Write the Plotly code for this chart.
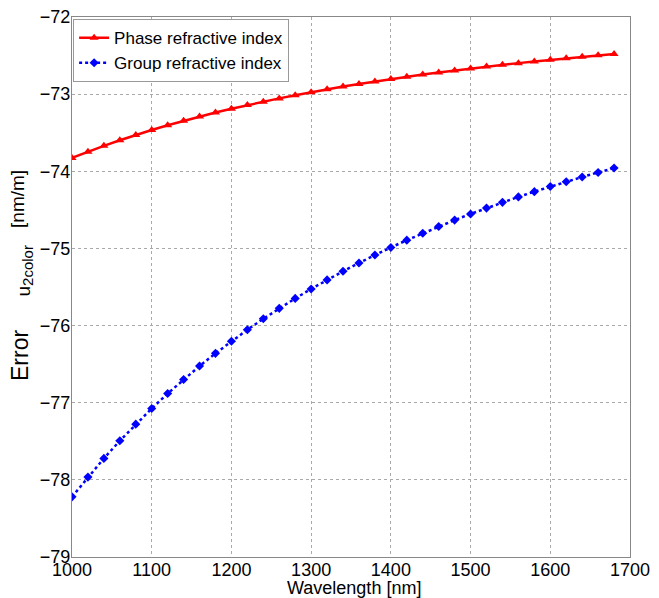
import plotly.graph_objects as go

wavelength = [1000, 1020, 1040, 1060, 1080, 1100, 1120, 1140, 1160, 1180,
              1200, 1220, 1240, 1260, 1280, 1300, 1320, 1340, 1360, 1380,
              1400, 1420, 1440, 1460, 1480, 1500, 1520, 1540, 1560, 1580,
              1600, 1620, 1640, 1660, 1680]

phase_error = [-73.827, -73.746, -73.670, -73.597, -73.529, -73.465, -73.404, -73.346, -73.291, -73.239,
               -73.189, -73.142, -73.097, -73.055, -73.014, -72.975, -72.938, -72.902, -72.868, -72.836,
               -72.805, -72.775, -72.746, -72.719, -72.693, -72.668, -72.643, -72.620, -72.598, -72.576,
               -72.555, -72.535, -72.516, -72.497, -72.479]

group_error = [-78.220, -77.964, -77.722, -77.494, -77.278, -77.075, -76.881, -76.699, -76.525, -76.360,
               -76.203, -76.054, -75.912, -75.777, -75.648, -75.525, -75.408, -75.296, -75.188, -75.086,
               -74.987, -74.893, -74.803, -74.716, -74.633, -74.553, -74.477, -74.403, -74.332, -74.264,
               -74.198, -74.135, -74.074, -74.015, -73.958]

x_ticks = [1000, 1100, 1200, 1300, 1400, 1500, 1600, 1700]
y_ticks = [-79, -78, -77, -76, -75, -74, -73, -72]

font_family = "Liberation Sans, Arial, sans-serif"

fig = go.Figure()
fig.add_trace(go.Scatter(
    x=wavelength, y=phase_error, mode="lines+markers",
    name="Phase refractive index",
    line=dict(color="#ff0000", width=2.5),
    marker=dict(symbol="triangle-up", size=8, color="#ff0000"),
))
fig.add_trace(go.Scatter(
    x=wavelength, y=group_error, mode="lines+markers",
    name="Group refractive index",
    line=dict(color="#0000ff", width=2.5, dash="dot"),
    marker=dict(symbol="diamond", size=7, color="#0000ff"),
))

fig.update_layout(
    width=659, height=598,
    margin=dict(l=64, r=37, t=9, b=49, autoexpand=False),
    paper_bgcolor="white", plot_bgcolor="white",
    font=dict(family=font_family, size=18, color="black"),
    showlegend=True,
    legend=dict(
        x=0.002, y=0.996, xanchor="left", yanchor="top",
        bgcolor="white", bordercolor="#999999", borderwidth=1,
        font=dict(size=17), tracegroupgap=0, itemwidth=30,
    ),
    annotations=[
        dict(text="Wavelength [nm]", xref="paper", yref="paper", x=0.506, y=-0.0574,
             xanchor="center", yanchor="middle", showarrow=False, font=dict(size=18)),
        dict(text="Error", xref="paper", yref="paper", x=-0.0932, y=0.3741,
             xanchor="center", yanchor="middle", textangle=-90, showarrow=False,
             font=dict(size=23)),
        dict(text="u<sub><span style='font-size:15px'>2color</span></sub>",
             xref="paper", yref="paper", x=-0.086, y=0.5287,
             xanchor="center", yanchor="middle", textangle=-90, showarrow=False,
             font=dict(size=19)),
        dict(text="[nm/m]", xref="paper", yref="paper", x=-0.0968, y=0.663,
             xanchor="center", yanchor="middle", textangle=-90, showarrow=False,
             font=dict(size=19)),
    ],
)
fig.update_xaxes(
    range=[1000, 1700], tickvals=x_ticks, ticktext=[str(v) for v in x_ticks],
    showgrid=True, gridcolor="#aaaaaa", griddash="dot", gridwidth=1,
    showline=True, linecolor="#888888", linewidth=1, mirror=True,
    ticks="", zeroline=False, automargin=False, ticklabelstandoff=-4,
    ticklabeloverflow="allow", tickfont=dict(size=18),
)
fig.update_yaxes(
    range=[-79, -72], tickvals=y_ticks, ticktext=["\u2212" + str(abs(v)) for v in y_ticks],
    showgrid=True, gridcolor="#aaaaaa", griddash="dot", gridwidth=1,
    showline=True, linecolor="#888888", linewidth=1, mirror=True,
    ticks="", zeroline=False, automargin=False, ticklabelstandoff=-3,
    ticklabeloverflow="allow", tickfont=dict(size=18),
)

fig.write_html("out.html")
